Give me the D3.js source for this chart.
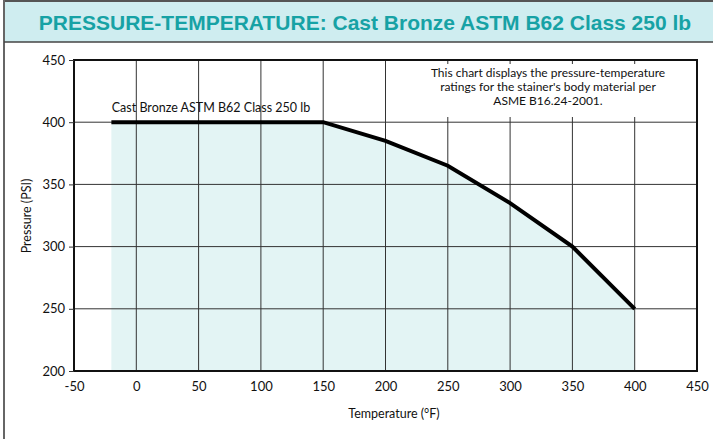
<!DOCTYPE html>
<html>
<head>
<meta charset="utf-8">
<script src="https://cdn.jsdelivr.net/npm/d3@7"></script>
<style>
  body { margin: 0; background: #fff; }
  svg text { font-family: Lato, "Open Sans", sans-serif; }
</style>
</head>
<body>
<div id="chart"></div>
<script>
// rating curve
var temps = [-20, 150, 200, 250, 300, 350, 400]
var pressures = [400, 400, 385, 365, 335, 300, 250]
var xTicks = [-50, 0, 50, 100, 150, 200, 250, 300, 350, 400, 450]
var yTicks = [200, 250, 300, 350, 400, 450]
var seriesName = "Cast Bronze ASTM B62 Class 250 lb"
var noteLines = ["This chart displays the pressure-temperature",
                 "ratings  for the stainer's body material per",
                 "ASME B16.24-2001."]

var width = 713, height = 439

var svg = d3.select("#chart").append("svg")
    .attr("width", width)
    .attr("height", height)

// title band
svg.append("rect")
  .attr("x", 4).attr("y", 1).attr("width", width - 4).attr("height", 41)
  .attr("fill", "#cfedf0")
svg.append("line").attr("x1", 4).attr("x2", width).attr("y1", 1).attr("y2", 1)
  .attr("stroke", "#555").attr("stroke-width", 2)
svg.append("line").attr("x1", 4).attr("x2", 4).attr("y1", 0).attr("y2", height)
  .attr("stroke", "#666").attr("stroke-width", 2)
svg.append("line").attr("x1", 4).attr("x2", width).attr("y1", 42).attr("y2", 42)
  .attr("stroke", "#444").attr("stroke-width", 1.5)
svg.append("text")
  .attr("x", 365).attr("y", 30)
  .attr("text-anchor", "middle")
  .style("font-family", "'Liberation Sans', Arial, sans-serif")
  .style("font-weight", "bold")
  .style("font-size", "21px")
  .attr("fill", "#17a2a5")
  .text("PRESSURE-TEMPERATURE: Cast Bronze ASTM B62 Class 250 lb")

var x = d3.scaleLinear().domain([-50, 450]).range([74, 697])
var y = d3.scaleLinear().domain([200, 450]).range([371, 60])

var pts = temps.map(function(t, i) { return [t, pressures[i]] })

// shaded region under the curve
svg.append("path")
  .datum(pts)
  .attr("d", d3.area().x(function(d) { return x(d[0]) }).y0(y(200)).y1(function(d) { return y(d[1]) }))
  .attr("fill", "#e3f4f4")

// grid
svg.append("g").selectAll("line").data(xTicks.slice(1, -1)).enter().append("line")
  .attr("x1", function(d) { return x(d) }).attr("x2", function(d) { return x(d) })
  .attr("y1", y(450)).attr("y2", y(200))
  .attr("stroke", "#333").attr("stroke-width", 1)
svg.append("g").selectAll("line").data(yTicks.slice(1, -1)).enter().append("line")
  .attr("x1", x(-50)).attr("x2", x(450))
  .attr("y1", function(d) { return y(d) }).attr("y2", function(d) { return y(d) })
  .attr("stroke", "#333").attr("stroke-width", 1)

// note box hides the grid behind it
svg.append("rect")
  .attr("x", 392).attr("y", 64).attr("width", x(450) - 393).attr("height", 53)
  .attr("fill", "#fff")
svg.append("g").selectAll("text").data(noteLines).enter().append("text")
  .attr("x", 548).attr("y", function(d, i) { return 77 + i * 14 })
  .attr("text-anchor", "middle")
  .style("font-size", "12px")
  .attr("fill", "#111")
  .text(function(d) { return d })

// frame
svg.append("rect")
  .attr("x", x(-50)).attr("y", y(450))
  .attr("width", x(450) - x(-50)).attr("height", y(200) - y(450))
  .attr("fill", "none").attr("stroke", "#111").attr("stroke-width", 2)

// axes (plain hyphen for negatives, like the original)
var fmt = function(d) { return String(d) }
svg.append("g")
  .attr("transform", "translate(0," + y(200) + ")")
  .call(d3.axisBottom(x).tickValues(xTicks).tickFormat(fmt).tickSize(0).tickPadding(11))
svg.append("g")
  .attr("transform", "translate(" + x(-50) + ",0)")
  .call(d3.axisLeft(y).tickValues(yTicks).tickFormat(fmt).tickSize(5).tickPadding(4))
svg.selectAll(".domain").remove()
svg.selectAll(".tick text")
  .style("font-family", "Lato, sans-serif")
  .style("font-size", "13px")
  .attr("fill", "#111")
svg.selectAll(".tick line").attr("stroke", "#333")

// rating line
svg.append("path")
  .datum(pts)
  .attr("d", d3.line().x(function(d) { return x(d[0]) }).y(function(d) { return y(d[1]) }))
  .attr("fill", "none")
  .attr("stroke", "#000")
  .attr("stroke-width", 4)

svg.append("text")
  .attr("x", 211).attr("y", 112)
  .attr("text-anchor", "middle")
  .style("font-size", "12.5px")
  .attr("fill", "#111")
  .text(seriesName)

// axis titles
svg.append("text")
  .attr("x", 394).attr("y", 418)
  .attr("text-anchor", "middle")
  .style("font-size", "12.5px")
  .attr("fill", "#111")
  .text("Temperature (°F)")
svg.append("text")
  .attr("transform", "translate(31,216) rotate(-90)")
  .attr("text-anchor", "middle")
  .style("font-size", "12.5px")
  .attr("fill", "#111")
  .text("Pressure (PSI)")
</script>
</body>
</html>
